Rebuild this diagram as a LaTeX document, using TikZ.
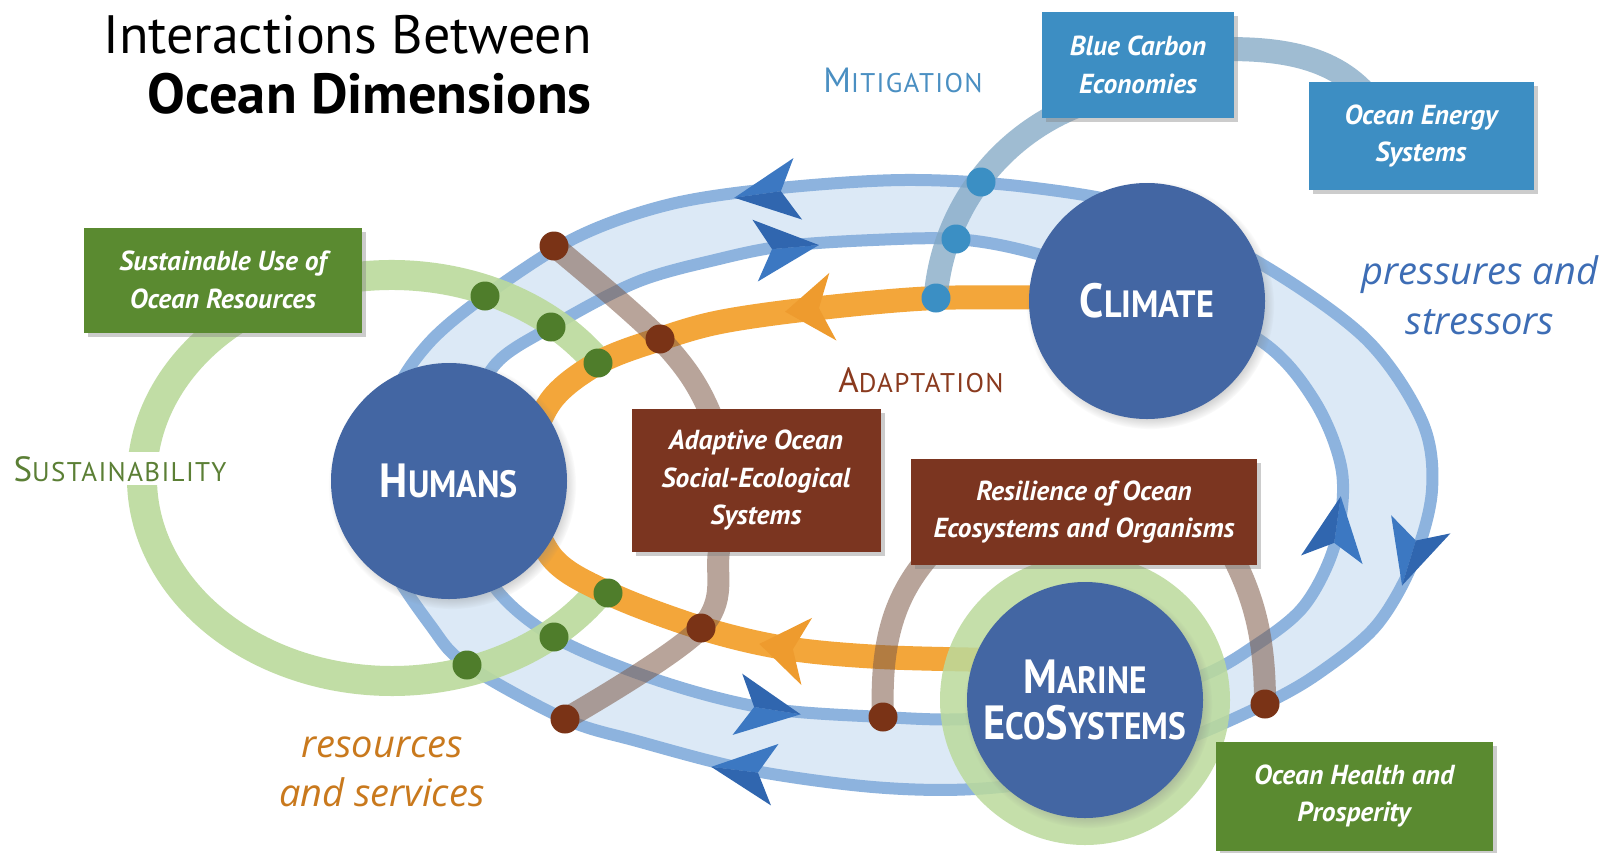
\documentclass[tikz,border=0pt]{standalone}
\usepackage{fontspec}
\setmainfont{PT Sans}
\newfontfamily\flowfont{Open Sans}
\usetikzlibrary{shadows}

\definecolor{bandline}{HTML}{8DB3DE}
\definecolor{bandfill}{HTML}{DCE9F6}
\definecolor{circblue}{HTML}{4366A3}
\definecolor{headblue}{HTML}{3C78C2}
\definecolor{headdark}{HTML}{3066AF}
\definecolor{orangeband}{HTML}{F3A63A}
\definecolor{orangehead}{HTML}{EE9B2E}
\definecolor{greenband}{HTML}{BBDA9C}
\definecolor{greenbox}{HTML}{5A8A30}
\definecolor{greendot}{HTML}{4F7D2B}
\definecolor{brownbox}{HTML}{7B3520}
\definecolor{browndot}{HTML}{7A3316}
\definecolor{brownband}{HTML}{7E5A48}
\definecolor{bluebox}{HTML}{3D8EC3}
\definecolor{bluedot}{HTML}{3B8FC4}
\definecolor{mitband}{HTML}{7FA6C4}
\definecolor{mittext}{HTML}{4A8FC2}
\definecolor{adapttext}{HTML}{8A3A1E}
\definecolor{sustext}{HTML}{5B7F35}
\definecolor{presstext}{HTML}{3D6DB5}
\definecolor{restext}{HTML}{C9791D}

% large cap + small caps imitation
\newcommand\capword[2]{{\fontsize{48}{46}\selectfont #1}{\fontsize{38}{46}\selectfont #2}}
\newcommand\labelcaps[2]{{\fontsize{35}{35}\selectfont #1}{\fontsize{27}{35}\selectfont #2}}

% notched arrow head: x, y, direction (degrees)
\newcommand\bluehead[3]{%
  \begin{scope}[shift={(#1,#2)},rotate=#3]
    \fill[headblue] (34,0) -- (-30,31) -- (-13,0) -- cycle;
    \fill[headdark] (34,0) -- (-30,-31) -- (-13,0) -- cycle;
  \end{scope}}
\newcommand\orangehead[3]{%
  \begin{scope}[shift={(#1,#2)},rotate=#3]
    \fill[orangehead] (26,0) -- (-22,34) -- (-8,0) -- (-22,-34) -- cycle;
  \end{scope}}

\tikzset{
  bigcirc/.style={circle, fill=circblue, minimum size=236, inner sep=0, text=white,
    circular drop shadow={shadow scale=1.05, shadow xshift=3pt, shadow yshift=-4pt, opacity=.55}},
  tagbox/.style={rectangle, inner sep=0, text=white, align=center,
    font=\bfseries\itshape\fontsize{27.5}{37.5}\selectfont,
    drop shadow={shadow xshift=4pt, shadow yshift=-4pt, opacity=.4}},
  greentag/.style={tagbox, fill=greenbox},
  browntag/.style={tagbox, fill=brownbox},
  bluetag/.style={tagbox, fill=bluebox},
  dotnode/.style={circle, inner sep=0, minimum size=29},
  gdot/.style={dotnode, fill=greendot},
  bdot/.style={dotnode, fill=browndot},
  mdot/.style={dotnode, fill=bluedot},
  bandedge/.style={draw=bandline, line width=12},
  brownarc/.style={draw=brownband, line width=22, opacity=.55},
  mitarc/.style={draw=mitband, line width=24, opacity=.75},
}

\begin{document}
\begin{tikzpicture}[x=1pt,y=-1pt]
\useasboundingbox (0,0) rectangle (1610,852);
\fill[white] (0,0) rectangle (1610,852);

% mitigation links
\draw[mitarc] (1200,50) .. controls (1290,45) and (1345,60) .. (1378,110);

% pressures / resources loop
\fill[bandfill, even odd rule]
  plot[smooth cycle, tension=0.55] coordinates {(485,296) (575,238) (667,205) (770,189) (904,180) (1027,187) (1150,210) (1263,265) (1366,339) (1422,421) (1432,490) (1413,562) (1376,626) (1319,673) (1265,704) (1181,741) (1078,775) (975,789) (873,787) (750,770) (637,741) (565,719) (467,665) (431,626) (385,554) (372,483) (392,400) (428,344)}
  plot[smooth cycle, tension=0.55] coordinates {(551,327) (637,282) (719,259) (785,246) (873,240) (956,239) (1030,252) (1140,287) (1258,339) (1314,400) (1342,472) (1335,544) (1304,606) (1253,647) (1196,678) (1088,708) (970,719) (883,717) (765,708) (657,680) (554,637) (493,585) (465,513) (468,431) (494,366)};
\draw[bandedge] plot[smooth cycle, tension=0.55] coordinates {(485,296) (575,238) (667,205) (770,189) (904,180) (1027,187) (1150,210) (1263,265) (1366,339) (1422,421) (1432,490) (1413,562) (1376,626) (1319,673) (1265,704) (1181,741) (1078,775) (975,789) (873,787) (750,770) (637,741) (565,719) (467,665) (431,626) (385,554) (372,483) (392,400) (428,344)};
\draw[bandedge] plot[smooth cycle, tension=0.55] coordinates {(551,327) (637,282) (719,259) (785,246) (873,240) (956,239) (1030,252) (1140,287) (1258,339) (1314,400) (1342,472) (1335,544) (1304,606) (1253,647) (1196,678) (1088,708) (970,719) (883,717) (765,708) (657,680) (554,637) (493,585) (465,513) (468,431) (494,366)};

% sustainability loop
\draw[greenband, line width=30, opacity=.9]
  ([shift={(-34:250 and 203)}]392,478) arc[start angle=-34, end angle=-328, x radius=250, y radius=203];

% adaptation loop
\draw[orangeband, line width=24]
  plot[smooth, tension=0.55] coordinates {(1080,298) (936,298) (811,309) (720,322) (660,339) (598,363) (548,405) (525,480) (550,555) (608,593) (701,628) (785,648) (880,657) (1000,660)};

% mitigation link down to the loops
\draw[mitarc] ([shift={(184:225)}]1160,315) arc[start angle=184, end angle=250, radius=225];

% resilience and adaptive capacity links
\draw[brownarc] plot[smooth, tension=0.6] coordinates {(554,246) (660,339) (708,408) (724,480) (719,551) (701,628) (565,719)};
\draw[brownarc] (883,717) .. controls (880,640) and (895,595) .. (930,555);
\draw[brownarc] (1265,704) .. controls (1265,640) and (1255,600) .. (1232,555);

% health ring
\draw[greenband, line width=28, opacity=.85] (1085,700) circle[radius=131];

% direction heads
\bluehead{768}{193}{188}
\bluehead{785}{248}{5}
\bluehead{767}{709}{-9}
\bluehead{745}{771}{173}
\bluehead{1336}{530}{82}
\bluehead{1412}{553}{-107}
\orangehead{811}{309}{186}
\orangehead{785}{648}{171}

% crossing dots
\node[gdot] (g1) at (485,296) {};
\node[gdot] (g2) at (551,327) {};
\node[gdot] (g3) at (598,363) {};
\node[gdot] (g4) at (467,665) {};
\node[gdot] (g5) at (554,637) {};
\node[gdot] (g6) at (608,593) {};
\node[bdot] (b1) at (554,246) {};
\node[bdot] (b2) at (660,339) {};
\node[bdot] (b3) at (701,628) {};
\node[bdot] (b4) at (565,719) {};
\node[bdot] (b5) at (883,717) {};
\node[bdot] (b6) at (1265,704) {};
\node[mdot] (m1) at (981,182) {};
\node[mdot] (m2) at (956,239) {};
\node[mdot] (m3) at (936,298) {};

% the three dimensions
\node[bigcirc] (humans) at (449,481) {\scalebox{0.9}[1]{\bfseries\capword{H}{UMANS}}};
\node[bigcirc] (climate) at (1147,301) {\scalebox{0.9}[1]{\bfseries\capword{C}{LIMATE}}};
\node[bigcirc, align=center, font=\bfseries\fontsize{48}{46}\selectfont] (marine) at (1085,700)
  {\scalebox{0.88}[1]{\capword{M}{ARINE}}\\\scalebox{0.88}[1]{\capword{E}{CO}\capword{S}{YSTEMS}}};

% tag boxes
\node[greentag, minimum width=278, minimum height=105] (sust) at (223,280) {Sustainable Use of\\Ocean Resources};
\node[browntag, minimum width=249, minimum height=143] (adapt) at (756,480) {Adaptive Ocean\\Social-Ecological\\Systems};
\node[browntag, minimum width=346, minimum height=106] (resil) at (1084,512) {Resilience of Ocean\\Ecosystems and Organisms};
\node[greentag, minimum width=277, minimum height=109] (health) at (1354,796) {Ocean Health and\\Prosperity};
\node[bluetag, minimum width=192, minimum height=106] (carbon) at (1138,65) {Blue Carbon\\Economies};
\node[bluetag, minimum width=225, minimum height=108] (energy) at (1421,136) {Ocean Energy\\Systems};

% title
\node[anchor=base east, inner sep=0, font=\fontsize{54}{54}\selectfont] (title1) at (592,53) {Interactions Between};
\node[anchor=base east, inner sep=0, font=\bfseries\fontsize{56.5}{56.5}\selectfont] (title2) at (592,113) {Ocean Dimensions};

% loop labels
\node[anchor=base, inner sep=0, text=mittext] (mitlabel) at (903,92) {\addfontfeature{LetterSpace=5}\labelcaps{M}{ITIGATION}};
\node[anchor=base, inner sep=0, text=adapttext] (adaptlabel) at (921,392) {\addfontfeature{LetterSpace=5}\labelcaps{A}{DAPTATION}};
\node[anchor=base, inner sep=4, fill=white, text=sustext] (suslabel) at (120,481) {\addfontfeature{LetterSpace=5}\labelcaps{S}{USTAINABILITY}};

\node[anchor=base, inner sep=0, text=presstext, font=\flowfont\itshape\fontsize{38}{38}\selectfont] (press1) at (1480,284) {pressures and};
\node[anchor=base, inner sep=0, text=presstext, font=\flowfont\itshape\fontsize{38}{38}\selectfont] (press2) at (1480,334) {stressors};
\node[anchor=base, inner sep=0, text=restext, font=\flowfont\itshape\fontsize{38}{38}\selectfont] (res1) at (382,757) {resources};
\node[anchor=base, inner sep=0, text=restext, font=\flowfont\itshape\fontsize{38}{38}\selectfont] (res2) at (382,806) {and services};
\end{tikzpicture}
\end{document}
